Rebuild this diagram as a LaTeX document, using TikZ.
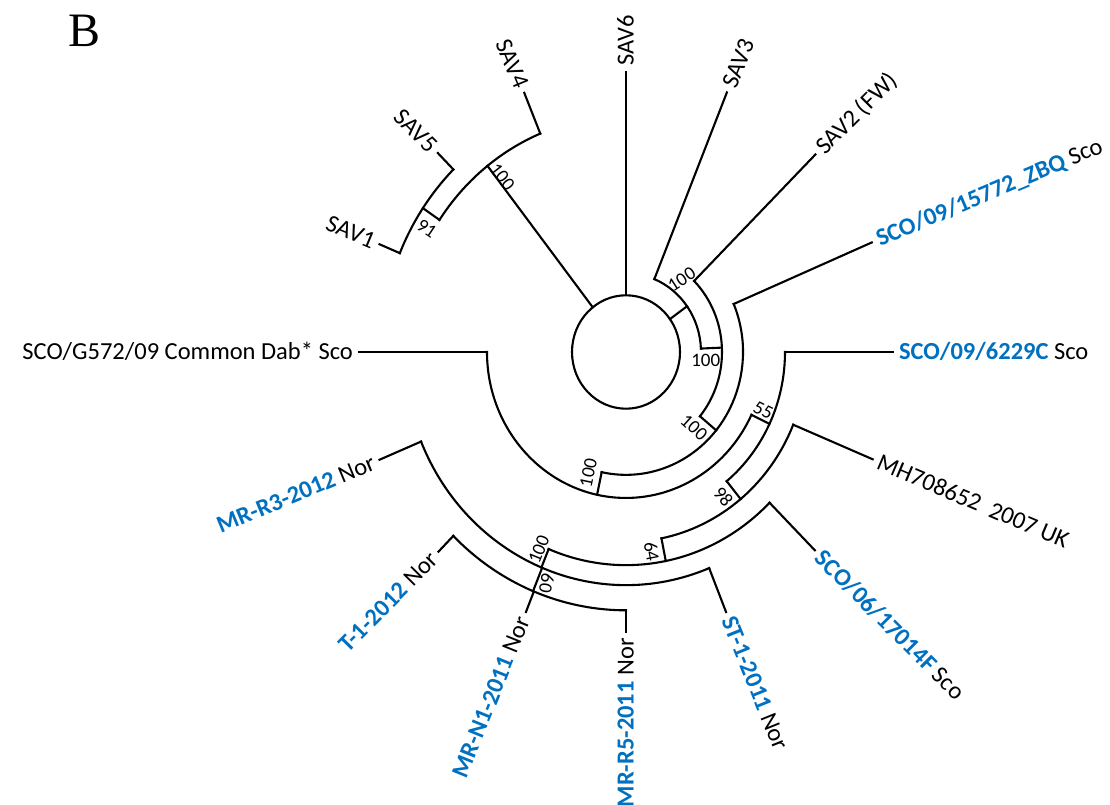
\documentclass[tikz,border=0pt]{standalone}
\usepackage{fontspec}
\setmainfont{Carlito}
\newfontfamily\panelfont{Liberation Serif}
\definecolor{isoblue}{RGB}{0,112,192}
\tikzset{
  branch/.style={line width=2.1pt, line cap=rect},
  taxon/.style={font=\fontsize{24.5}{28}\selectfont, inner sep=5pt, text height=15pt, text depth=0pt},
  boot/.style={font=\fontsize{19}{21}\selectfont, inner sep=0pt},
}
\newcommand{\iso}[1]{\textcolor{isoblue}{\bfseries #1}}
\begin{document}
\begin{tikzpicture}[x=1pt,y=1pt]
\useasboundingbox (-626,-453) rectangle (484,352);
\node[font=\panelfont\fontsize{48}{50}\selectfont, inner sep=0pt] (panel) at (-541,321) {B};

\begin{scope}[yscale=1.05, branch]
% root
\draw (0,0) circle[radius=54pt];
% SAV1, SAV4, SAV5
\draw (128:54pt) -- (128:225pt) coordinate (n1);
\draw (112.4:225pt) arc[start angle=112.4, end angle=146, radius=225pt];
\draw (112.4:225pt) -- (112.4:267pt) node[taxon, anchor=east, rotate=-67.6] (sav4) {SAV4};
\draw (146:225pt) -- (146:245pt) coordinate (n2);
\draw (134.8:245pt) arc[start angle=134.8, end angle=157.4, radius=245pt];
\draw (134.8:245pt) -- (134.8:267pt) node[taxon, anchor=east, rotate=-45.2] (sav5) {SAV5};
\draw (157.4:245pt) -- (157.4:267pt) node[taxon, anchor=east, rotate=-22.6] (sav1) {SAV1};
% SAV6
\draw (90:54pt) -- (90:267pt) node[taxon, anchor=west, rotate=90] (sav6) {SAV6};
% SAV3, SAV2 and the rest
\draw (35.5:54pt) -- (35.5:75pt) coordinate (nA);
\draw (67.8:75pt) arc[start angle=67.8, end angle=2.5, radius=75pt];
\draw (67.8:75pt) -- (67.8:267pt) node[taxon, anchor=west, rotate=67.8] (sav3) {SAV3};
\draw (2.5:75pt) -- (2.5:96pt) coordinate (nB);
\draw (44.8:96pt) arc[start angle=44.8, end angle=-39.6, radius=96pt];
\draw (44.8:96pt) -- (44.8:267pt) node[taxon, anchor=west, rotate=44.8] (sav2) {SAV2 (FW)};
\draw (-39.6:96pt) -- (-39.6:117pt) coordinate (nC);
\draw (23:117pt) arc[start angle=23, end angle=-102, radius=117pt];
\draw (23:117pt) -- (23:267pt) node[taxon, anchor=west, rotate=23] (zbq) {\iso{SCO/09/15772\_ZBQ} Sco};
\draw (-102:117pt) -- (-102:139pt) coordinate (nD);
\draw (180:139pt) arc[start angle=180, end angle=334.5, radius=139pt];
\draw (180:139pt) -- (180:267pt) node[taxon, anchor=east] (dab) {SCO/G572/09 Common Dab* Sco};
\draw (-25.5:139pt) -- (-25.5:159pt) coordinate (nE);
\draw (0:159pt) arc[start angle=0, end angle=-50.7, radius=159pt];
\draw (0:159pt) -- (0:267pt) node[taxon, anchor=west] (c6229) {\iso{SCO/09/6229C} Sco};
\draw (-50.7:159pt) -- (-50.7:181pt) coordinate (nF);
\draw (-22.5:181pt) arc[start angle=-22.5, end angle=-78.7, radius=181pt];
\draw (-22.5:181pt) -- (-22.5:267pt) node[taxon, anchor=west, rotate=-23] (mh) {MH708652\ \ 2007 UK};
\draw (-78.7:181pt) -- (-78.7:203pt) coordinate (nG);
\draw (-45:203pt) arc[start angle=-45, end angle=-112.4, radius=203pt];
\draw (-45:203pt) -- (-45:267pt) node[taxon, anchor=west, rotate=-45] (f17014) {\iso{SCO/06/17014F} Sco};
\draw (-112.4:203pt) -- (-112.4:222pt) coordinate (nH);
\draw (202.6:222pt) arc[start angle=202.6, end angle=292, radius=222pt];
\draw (202.6:222pt) -- (202.6:267pt) node[taxon, anchor=east, rotate=22.6] (mrr3) {\iso{MR-R3-2012} Nor};
\draw (292:222pt) -- (292:267pt) node[taxon, anchor=west, rotate=-68] (st1) {\iso{ST-1-2011} Nor};
\draw (247.8:222pt) -- (247.8:246pt) coordinate (nI);
\draw (225.4:246pt) arc[start angle=225.4, end angle=270, radius=246pt];
\draw (225.4:246pt) -- (225.4:267pt) node[taxon, anchor=east, rotate=45.4] (t1) {\iso{T-1-2012} Nor};
\draw (248:246pt) -- (248:267pt) node[taxon, anchor=east, rotate=68] (mrn1) {\iso{MR-N1-2011} Nor};
\draw (270:246pt) -- (270:267pt) node[taxon, anchor=east, rotate=90] (mrr5) {\iso{MR-R5-2011} Nor};
\end{scope}

% bootstrap values
\node[boot, rotate=-52] (b1) at (-123.7,175.3) {100};
\node[boot, rotate=-34] (b2) at (-199.3,123.7) {91};
\node[boot, rotate=33] (b3) at (55.7,72.7) {100};
\node[boot] (b4) at (79.7,-8) {100};
\node[boot, rotate=-42] (b5) at (68,-75.3) {100};
\node[boot, rotate=78] (b6) at (-37.7,-120.7) {100};
\node[boot, rotate=-27] (b7) at (137.3,-58) {55};
\node[boot, rotate=-51] (b8) at (97.3,-144.7) {98};
\node[boot, rotate=-79] (b9) at (25.7,-199.7) {64};
\node[boot, rotate=68] (b10) at (-87,-197.3) {100};
\node[boot, rotate=-100] (b11) at (-79.3,-231.3) {60};
\end{tikzpicture}
\end{document}
